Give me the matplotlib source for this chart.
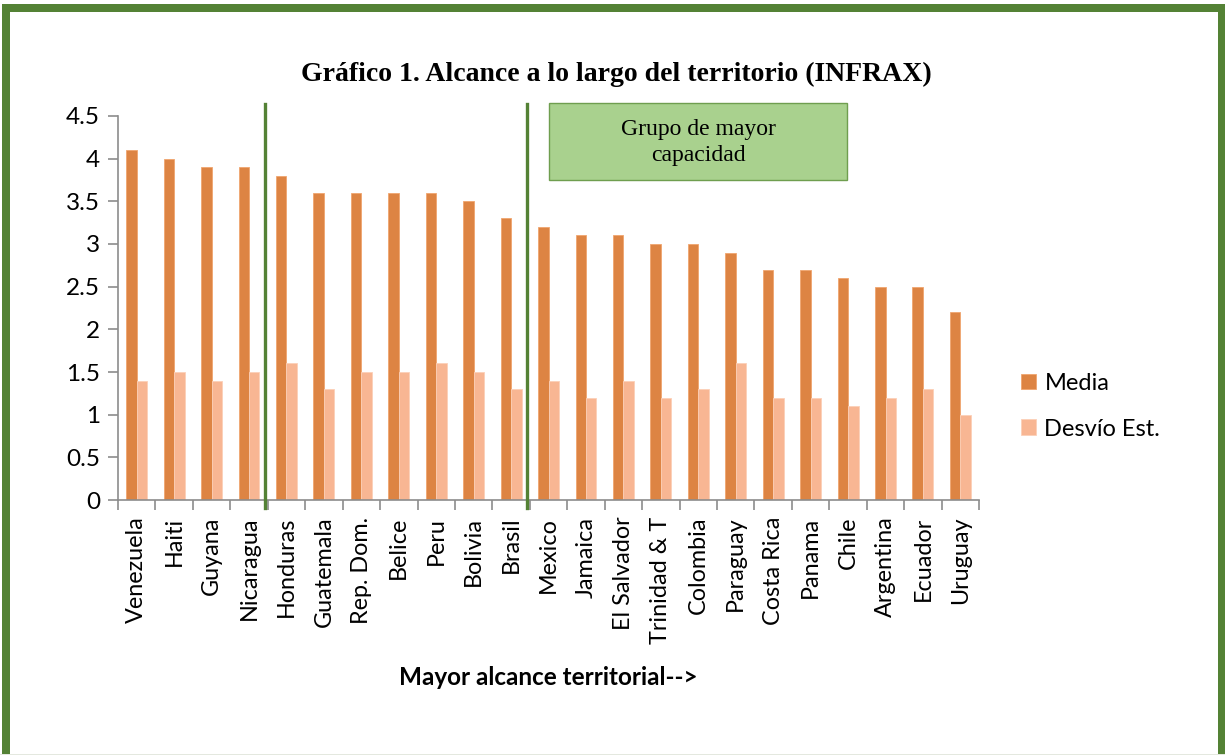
"""
Gráfico 1 — alcance a lo largo del territorio (INFRAX), media y desvío por país.

Writes: out.png
"""

import matplotlib
matplotlib.use("Agg")
import matplotlib.pyplot as plt
from matplotlib.patches import Rectangle
import numpy as np

paises = ["Venezuela", "Haiti", "Guyana", "Nicaragua", "Honduras", "Guatemala",
          "Rep. Dom.", "Belice", "Peru", "Bolivia", "Brasil", "Mexico", "Jamaica",
          "El Salvador", "Trinidad & T", "Colombia", "Paraguay", "Costa Rica",
          "Panama", "Chile", "Argentina", "Ecuador", "Uruguay"]
media = [4.1, 4.0, 3.9, 3.9, 3.8, 3.6, 3.6, 3.6, 3.6, 3.5, 3.3, 3.2, 3.1,
         3.1, 3.0, 3.0, 2.9, 2.7, 2.7, 2.6, 2.5, 2.5, 2.2]
desvio = [1.4, 1.5, 1.4, 1.5, 1.6, 1.3, 1.5, 1.5, 1.6, 1.5, 1.3, 1.4, 1.2,
          1.4, 1.2, 1.3, 1.6, 1.2, 1.2, 1.1, 1.2, 1.3, 1.0]
y_ticks = [0, 0.5, 1, 1.5, 2, 2.5, 3, 3.5, 4, 4.5]
y_tick_labels = ["0", "0.5", "1", "1.5", "2", "2.5", "3", "3.5", "4", "4.5"]
# group boundaries (between Nicaragua/Honduras and Brasil/Mexico)
cortes = [3.5, 10.5]

C_MEDIA = "#DD8443"
C_DESVIO = "#F8B693"
C_GREEN = "#548235"
C_AXIS = "#8C8C8C"
SANS = ["Lato", "DejaVu Sans"]
SERIF = ["Liberation Serif", "DejaVu Serif"]

fig = plt.figure(figsize=(12.25, 7.55), dpi=100)
ax = fig.add_axes([0.0963, 0.3377, 0.7030, 0.5087])

x = np.arange(len(paises))
w = 0.28
ax.bar(x - w / 2, media, w, color=C_MEDIA, edgecolor="#F0A56E", linewidth=0.6, label="Media")
ax.bar(x + w / 2, desvio, w, color=C_DESVIO, edgecolor="#FCD0B8", linewidth=0.6, label="Desvío Est.")

ax.set_xlim(-0.5, len(paises) - 0.5)
ax.set_ylim(0, 4.5)

ax.set_yticks(y_ticks)
ax.set_yticklabels(y_tick_labels, fontsize=17.5, family=SANS)
ax.set_xticks(x)
ax.set_xticklabels(paises, rotation=90, fontsize=16.8, family=SANS)
ax.set_xticks(np.arange(-0.5, len(paises)), minor=True)
ax.tick_params(axis="x", which="major", length=0, pad=12)
ax.tick_params(axis="x", which="minor", length=7, width=1.2, color=C_AXIS)
ax.tick_params(axis="y", length=7, width=1.2, color=C_AXIS, pad=6)

for side in ("top", "right"):
    ax.spines[side].set_visible(False)
for side in ("left", "bottom"):
    ax.spines[side].set_color(C_AXIS)
    ax.spines[side].set_linewidth(1.2)

# vertical separators between groups
for c in cortes:
    ax.plot([c - 0.07, c - 0.07], [-0.09, 4.64], color=C_GREEN, linewidth=2.4,
            clip_on=False, zorder=5)

# annotation box
ax.add_patch(Rectangle((11.02, 3.75), 7.95, 0.9, facecolor="#A9D18E",
                       edgecolor="#6F9E4F", linewidth=1.0, clip_on=False, zorder=4))
ax.text(15.0, 4.19, "Grupo de mayor\ncapacidad", ha="center", va="center",
        fontsize=17, family=SERIF, linespacing=1.3, zorder=6)

ax.set_xlabel("Mayor alcance territorial-->", fontsize=17.5, fontweight="bold",
              family=SANS, labelpad=16)

fig.text(0.503, 0.902, "Gráfico 1. Alcance a lo largo del territorio (INFRAX)",
         ha="center", va="center", fontsize=20, fontweight="bold", family=SERIF)

leg = fig.legend(loc="center left", bbox_to_anchor=(0.816, 0.462), frameon=False,
                 prop={"family": SANS, "size": 17}, handlelength=0.65,
                 handleheight=0.65, handletextpad=0.35, labelspacing=1.05)

# outer green frame (left, top, right) and faint bottom line
fig.patches.append(Rectangle((2 / 1225, 0), 8 / 1225, 1 - 4 / 755, transform=fig.transFigure,
                             facecolor=C_GREEN, edgecolor="none"))
fig.patches.append(Rectangle((2 / 1225, 1 - 12 / 755), 1 - 2 / 1225, 8 / 755,
                             transform=fig.transFigure, facecolor=C_GREEN, edgecolor="none"))
fig.patches.append(Rectangle((1 - 7 / 1225, 0), 7 / 1225, 1 - 4 / 755, transform=fig.transFigure,
                             facecolor=C_GREEN, edgecolor="none"))
fig.patches.append(Rectangle((0, 0), 1, 1.5 / 755, transform=fig.transFigure,
                             facecolor="#E4E8DF", edgecolor="none"))

fig.savefig("out.png", dpi=100)
plt.close(fig)
